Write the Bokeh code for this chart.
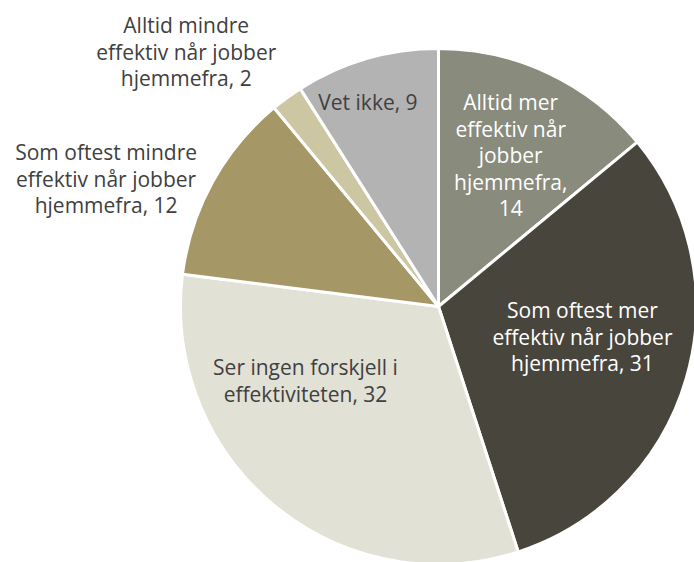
import math
from bokeh.plotting import figure
from bokeh.models import Range1d, ColumnDataSource
from bokeh.core.properties import value
from bokeh.embed import file_html
from bokeh.resources import INLINE

# ---- data ----
categories = [
    "Alltid mer\neffektiv når\njobber\nhjemmefra,\n14",
    "Som oftest mer\neffektiv når jobber\nhjemmefra, 31",
    "Ser ingen forskjell i\neffektiviteten, 32",
    "Som oftest mindre\neffektiv når jobber\nhjemmefra, 12",
    "Alltid mindre\neffektiv når jobber\nhjemmefra, 2",
    "Vet ikke, 9",
]
values = [14, 31, 32, 12, 2, 9]

# ---- style / layout ----
colors = ["#898b7c", "#48453c", "#e2e1d5", "#a59866", "#ccc6a3", "#b3b3b3"]
text_colors = ["#ffffff", "#ffffff", "#404040", "#404040", "#404040", "#404040"]
# label placement: angle clockwise from 12 o'clock (deg), radius as fraction of pie radius
label_angle = [25.5, 101.8, 240.9, 291.0, 315.3, 341.0]
label_rfrac = [0.65, 0.57, 0.59, 1.38, 1.39, 0.84]

W, H = 694, 562
CX, CY, R = 438, 256, 258

total = sum(values)
starts, ends = [], []
cum = 0.0
for v in values:
    a0 = math.pi / 2 - 2 * math.pi * cum / total
    cum += v
    a1 = math.pi / 2 - 2 * math.pi * cum / total
    starts.append(a1)
    ends.append(a0)

src = ColumnDataSource(dict(start=starts, end=ends, color=colors))

p = figure(width=W, height=H, x_range=Range1d(0, W), y_range=Range1d(0, H),
           output_backend="svg", toolbar_location=None, min_border=0,
           x_axis_location=None, y_axis_location=None)
p.grid.visible = False
p.outline_line_color = None
p.background_fill_color = "white"

p.wedge(x=CX, y=CY, radius=R, start_angle="start", end_angle="end",
        direction="anticlock", fill_color="color", line_color="white",
        line_width=3, source=src)

lx, ly = [], []
for ang, rf in zip(label_angle, label_rfrac):
    t = math.radians(ang)
    lx.append(CX + rf * R * math.sin(t))
    ly.append(CY + rf * R * math.cos(t))

lsrc = ColumnDataSource(dict(x=lx, y=ly, text=categories, tc=text_colors))
p.text(x="x", y="y", text="text", source=lsrc, text_color="tc",
       text_align="center", text_baseline="middle",
       text_font=value("Open Sans"), text_font_size="21px",
       text_line_height=0.95)

open("out.html", "w").write(file_html(p, INLINE))
